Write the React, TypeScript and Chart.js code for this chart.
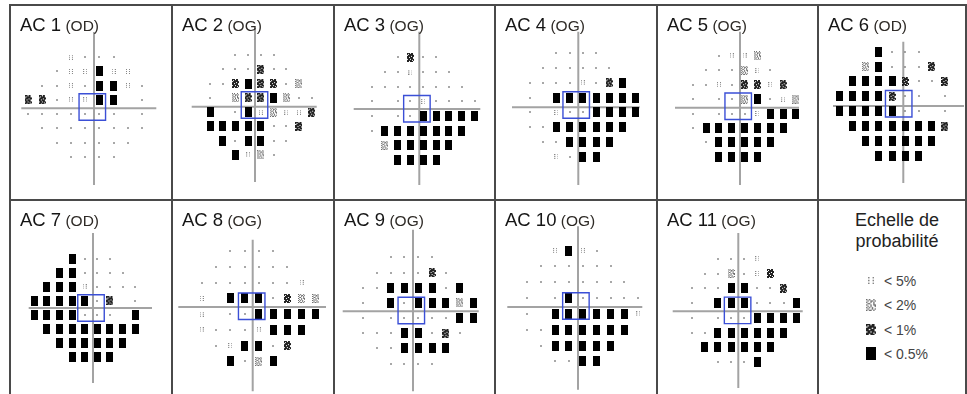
import React, { useEffect, useRef } from "react";
import { Chart, registerables } from "chart.js";
Chart.register(...registerables);

// Probability codes: 0 normal, 1 <5%, 2 <2%, 3 <1%, 4 <0.5%, null = blind spot (not shown)
const N = null;

const panelNames = ["AC 1", "AC 2", "AC 3", "AC 4", "AC 5", "AC 6", "AC 7", "AC 8", "AC 9", "AC 10", "AC 11"];
const panelEyes = ["OD", "OG", "OG", "OG", "OG", "OD", "OD", "OG", "OG", "OG", "OG"];

// 24-2 test grid (degrees), rows from top to bottom
const rowY = [21, 15, 9, 3, -3, -9, -15, -21];
const rowXOD = [
  [-9, -3, 3, 9],
  [-15, -9, -3, 3, 9, 15],
  [-21, -15, -9, -3, 3, 9, 15, 21],
  [-27, -21, -15, -9, -3, 3, 9, 15, 21],
  [-27, -21, -15, -9, -3, 3, 9, 15, 21],
  [-21, -15, -9, -3, 3, 9, 15, 21],
  [-15, -9, -3, 3, 9, 15],
  [-9, -3, 3, 9],
];
const rowXOG = [
  [-9, -3, 3, 9],
  [-15, -9, -3, 3, 9, 15],
  [-21, -15, -9, -3, 3, 9, 15, 21],
  [-21, -15, -9, -3, 3, 9, 15, 21, 27],
  [-21, -15, -9, -3, 3, 9, 15, 21, 27],
  [-21, -15, -9, -3, 3, 9, 15, 21],
  [-15, -9, -3, 3, 9, 15],
  [-9, -3, 3, 9],
];

const ac1 = [
  [1, 0, 0, 0],
  [0, 1, 1, 4, 1, 1],
  [0, 0, 1, 0, 4, 4, 1, 0],
  [3, 3, 0, 1, 1, 4, 4, N, 0],
  [0, 0, 0, 0, 0, 0, 0, N, 0],
  [0, 0, 0, 0, 0, 0, 0, 0],
  [0, 0, 0, 0, 0, 0],
  [0, 0, 0, 0],
];
const ac2 = [
  [0, 0, 0, 0],
  [0, 0, 0, 3, 0, 0],
  [0, 0, 3, 4, 3, 3, 0, 2],
  [0, N, 2, 3, 3, 4, 2, 0, 0],
  [4, N, 0, 4, 1, 2, 1, 1, 3],
  [4, 4, 4, 4, 4, 0, 0, 3],
  [4, 0, 4, 4, 0, 0],
  [4, 1, 2, 0],
];
const ac3 = [
  [0, 3, 0, 0],
  [0, 0, 1, 0, 0, 0],
  [0, 0, 0, 0, 0, 0, 0, 0],
  [0, N, 0, 0, 1, 0, 0, 0, 0],
  [0, N, 0, 0, 4, 4, 4, 4, 4],
  [0, 4, 4, 4, 4, 4, 4, 4],
  [2, 4, 4, 4, 4, 4],
  [4, 4, 4, 4],
];
const ac4 = [
  [0, 0, 0, 0],
  [0, 0, 0, 0, 0, 0],
  [0, 0, 0, 0, 1, 0, 3, 4],
  [0, N, 4, 4, 4, 4, 4, 4, 4],
  [0, N, 1, 0, 0, 4, 4, 4, 4],
  [0, 0, 4, 4, 4, 4, 4, 4],
  [0, 0, 4, 4, 4, 4],
  [1, 0, 4, 4],
];
const ac5 = [
  [0, 1, 1, 2],
  [0, 0, 0, 2, 1, 0],
  [0, 0, 1, 0, 3, 3, 1, 3],
  [0, N, 0, 0, 2, 4, 0, 1, 2],
  [0, N, 0, 0, 0, 1, 4, 4, 4],
  [0, 4, 4, 4, 4, 4, 4, 4],
  [0, 4, 4, 4, 4, 4],
  [4, 4, 4, 4],
];
const ac6 = [
  [4, 0, 0, 0],
  [2, 4, 0, 0, 0, 3],
  [4, 4, 4, 4, 3, 0, 0, 3],
  [4, 4, 4, 4, 3, 0, 0, N, 0],
  [4, 4, 4, 4, 4, 0, 0, N, 0],
  [4, 4, 4, 4, 4, 4, 4, 3],
  [4, 4, 4, 4, 4, 4],
  [4, 4, 4, 4],
];
const ac7 = [
  [4, 0, 0, 0],
  [4, 4, 0, 0, 0, 0],
  [4, 4, 4, 1, 0, 0, 0, 0],
  [4, 4, 4, 4, 4, 0, 3, N, 0],
  [4, 4, 4, 4, 0, 0, 0, N, 4],
  [4, 4, 4, 4, 4, 4, 4, 4],
  [4, 4, 4, 4, 4, 4],
  [4, 4, 4, 4],
];
const ac8 = [
  [0, 0, 0, 0],
  [0, 0, 0, 0, 0, 0],
  [0, 0, 0, 0, 0, 0, 0, 1],
  [1, N, 4, 4, 4, 0, 3, 2, 2],
  [1, N, 0, 0, 4, 4, 4, 4, 4],
  [1, 0, 0, 0, 1, 4, 4, 4],
  [0, 1, 4, 4, 0, 3],
  [4, 0, 2, 4],
];
const ac9 = [
  [0, 0, 0, 0],
  [0, 0, 0, 0, 3, 0],
  [0, 0, 4, 4, 4, 4, 0, 4],
  [0, N, 4, 0, 4, 4, 4, 2, 4],
  [0, N, 0, 0, 0, 0, 0, 4, 4],
  [0, 0, 0, 4, 4, 0, 3, 0],
  [0, 0, 4, 4, 4, 4],
  [0, 0, 0, 0],
];
const ac10 = [
  [1, 4, 1, 0],
  [0, 0, 0, 0, 0, 0],
  [0, 0, 0, 0, 0, 0, 0, 0],
  [0, N, 0, 4, 0, 0, 0, 0, 0],
  [0, N, 4, 4, 4, 4, 4, 4, 1],
  [0, 0, 4, 4, 4, 4, 4, 4],
  [0, 4, 4, 4, 4, 4],
  [0, 0, 4, 4],
];
const ac11 = [
  [0, 0, 0, 1],
  [0, 0, 2, 0, 1, 3],
  [0, 0, 0, 4, 4, 0, 0, 3],
  [0, N, 4, 4, 4, 0, 0, 0, 4],
  [0, N, 0, 0, 0, 4, 4, 4, 4],
  [0, 0, 4, 4, 4, 4, 4, 4],
  [4, 4, 4, 4, 4, 4],
  [0, 0, 0, 4],
];
const panelData = [ac1, ac2, ac3, ac4, ac5, ac6, ac7, ac8, ac9, ac10, ac11];

const legendLabels = ["< 5%", "< 2%", "< 1%", "< 0.5%"];
const legendTitle = ["Echelle de", "probabilité"];

// ---------- layout (page pixels) ----------
const COLS = [10, 172, 334, 495, 657, 818, 966];
const ROWS = [5, 200, 396];
// cx, cy: grid centre; sx, sy: px per degree; vertical/horizontal reference line placement
const LAYOUT = [
  { cx: 92.3, cy: 107, sx: 2.38, sy: 2.37, vx: 94, vy1: 32, vy2: 185, hy: 108.3, hx1: 21.3, hx2: 156.3 },
  { cx: 254.5, cy: 105, sx: 2.118, sy: 2.38, vx: 255, vy1: 28, vy2: 182, hy: 106.7, hx1: 191.7, hx2: 316.7 },
  { cx: 416.9, cy: 108.7, sx: 2.139, sy: 2.445, vx: 419.3, vy1: 31.7, vy2: 185, hy: 109, hx1: 353.7, hx2: 480.3 },
  { cx: 576.2, cy: 105, sx: 2.2, sy: 2.46, vx: 578.3, vy1: 31.7, vy2: 185, hy: 107.3, hx1: 512, hx2: 639.7 },
  { cx: 738.2, cy: 106.3, sx: 2.14, sy: 2.4, vx: 740, vy1: 31.7, vy2: 185, hy: 107.7, hx1: 675, hx2: 799 },
  { cx: 898.7, cy: 103.8, sx: 2.2, sy: 2.48, vx: 903.3, vy1: 41.7, vy2: 183, hy: 106, hx1: 833, hx2: 964 },
  { cx: 91, cy: 308, sx: 2.11, sy: 2.35, vx: 93, vy1: 233, vy2: 383, hy: 308, hx1: 28.7, hx2: 152 },
  { cx: 251.7, cy: 306.3, sx: 2.38, sy: 2.62, vx: 252.7, vy1: 239.7, vy2: 391.3, hy: 307, hx1: 178.3, hx2: 326 },
  { cx: 411.3, cy: 310.5, sx: 2.31, sy: 2.53, vx: 413, vy1: 229.7, vy2: 391.3, hy: 311.3, hx1: 342.7, hx2: 478.7 },
  { cx: 575.9, cy: 306, sx: 2.31, sy: 2.635, vx: 578, vy1: 226.3, vy2: 389.7, hy: 307, hx1: 507.3, hx2: 642.3 },
  { cx: 737.6, cy: 310.4, sx: 2.19, sy: 2.46, vx: 738.3, vy1: 233, vy2: 388, hy: 311.3, hx1: 672.7, hx2: 802.7 },
];
const BOX_SIDE = 26.5;
const FONT = "'Liberation Sans', Arial, Helvetica, sans-serif";

// ---------- symbol bitmaps ----------
const PAT1 = ["#..#", "....", "#..#", "....", "#..#"];
const PAT2 = [
  "#.#..#.",
  ".#.##.#",
  "#..#.#.",
  ".##..#.",
  "#..#.##",
  ".#.#..#",
  "#.#.#..",
  ".#..#.#",
  "#.##.#.",
];
const PAT3 = [
  "###.##.",
  "#.####.",
  ".######",
  "####.##",
  "##.###.",
  "######.",
  ".##.###",
  "#####.#",
  "##.###.",
];
const PAT4 = ["#######", "#######", "#######", "#######", "#######", "#######", "#######", "#######", "#######", "#######"];

function makeSymbol(code: number, k = 1): HTMLCanvasElement {
  const c = document.createElement("canvas");
  const draw = (pat: string[], col: string) => {
    c.width = pat[0].length * k;
    c.height = pat.length * k;
    const ctx = c.getContext("2d")!;
    ctx.fillStyle = col;
    pat.forEach((row, y) => {
      for (let x = 0; x < row.length; x++) if (row[x] === "#") ctx.fillRect(x * k, y * k, k, k);
    });
  };
  if (code === 0) draw(["##", "##"], "rgba(110,110,110,0.6)");
  else if (code === 1) draw(PAT1, "#888");
  else if (code === 2) draw(PAT2, "#707070");
  else if (code === 3) draw(PAT3, "#222");
  else draw(PAT4, "#000");
  return c;
}

let SYMBOLS: HTMLCanvasElement[] | null = null;
function symbols() {
  if (!SYMBOLS) SYMBOLS = [0, 1, 2, 3, 4].map((c) => makeSymbol(c));
  return SYMBOLS;
}

function Panel({ idx }: { idx: number }) {
  const ref = useRef<HTMLCanvasElement>(null);
  const r = idx < 6 ? 0 : 1;
  const col = idx % 6;
  const left = COLS[col];
  const top = ROWS[r];
  const W = COLS[col + 1] - left;
  const H = ROWS[r + 1] - top;

  useEffect(() => {
    const L = LAYOUT[idx];
    const xs = panelEyes[idx] === "OD" ? rowXOD : rowXOG;
    const buckets: { x: number; y: number }[][] = [[], [], [], [], []];
    panelData[idx].forEach((row, ri) =>
      row.forEach((v, ci) => {
        if (v === null) return;
        buckets[v].push({ x: xs[ri][ci], y: rowY[ri] });
      })
    );
    const toX = (p: number) => (p - L.cx) / L.sx;
    const toY = (p: number) => (L.cy - p) / L.sy;
    const sym = symbols();
    const chart = new Chart(ref.current!, {
      type: "scatter",
      data: {
        datasets: [
          {
            data: [{ x: 0, y: 0 }],
            pointStyle: "rect",
            pointRadius: BOX_SIDE / 2 / Math.SQRT1_2,
            pointBackgroundColor: "rgba(0,0,0,0)",
            pointBorderColor: "#3b4fd6",
            pointBorderWidth: 1.4,
            order: 0,
          } as any,
          ...buckets.map((b, k) => ({
            data: b,
            pointStyle: sym[k],
            pointRadius: 3,
            order: 1,
          })),
          {
            type: "line",
            data: [
              { x: toX(L.vx), y: toY(L.vy1) },
              { x: toX(L.vx), y: toY(L.vy2) },
            ],
            borderColor: "#a3a3a3",
            borderWidth: 2,
            pointRadius: 0,
            order: 2,
          } as any,
          {
            type: "line",
            data: [
              { x: toX(L.hx1), y: toY(L.hy) },
              { x: toX(L.hx2), y: toY(L.hy) },
            ],
            borderColor: "#a3a3a3",
            borderWidth: 2,
            pointRadius: 0,
            order: 2,
          } as any,
        ],
      },
      options: {
        animation: false,
        responsive: false,
        maintainAspectRatio: false,
        devicePixelRatio: 1,
        events: [],
        layout: { padding: 0, autoPadding: false },
        plugins: { legend: { display: false }, tooltip: { enabled: false }, title: { display: false } },
        scales: {
          x: { type: "linear", display: false, min: toX(left), max: toX(left + W) },
          y: { type: "linear", display: false, min: toY(top + H), max: toY(top) },
        },
      },
    });
    return () => chart.destroy();
  }, [idx]);

  return (
    <>
      <canvas ref={ref} width={W} height={H} style={{ position: "absolute", left, top, width: W, height: H }} />
      <div
        style={{
          position: "absolute",
          left: left + 10,
          top: top + 10,
          lineHeight: "19px",
          whiteSpace: "nowrap",
          fontFamily: FONT,
        }}
      >
        <span style={{ fontSize: 18.5, color: "#151515" }}>{panelNames[idx]}</span>
        <span style={{ fontSize: 15.5, color: "#2e2a26" }}> ({panelEyes[idx]})</span>
      </div>
    </>
  );
}

function LegendPanel() {
  const syms = symbols();
  const imgs = syms.slice(1).map((c) => c.toDataURL());
  const baselines = [285.5, 310, 334.5, 358.5];
  return (
    <>
      {legendTitle.map((t, i) => (
        <div
          key={t}
          style={{
            position: "absolute",
            left: 847,
            width: 100,
            textAlign: "center",
            top: [226.5, 247.5][i] - 15.5,
            fontSize: 18,
            lineHeight: "18px",
            color: "#222",
            fontFamily: FONT,
          }}
        >
          {t}
        </div>
      ))}
      {legendLabels.map((t, i) => {
        const k = 1.3;
        const w = syms[i + 1].width;
        const h = syms[i + 1].height;
        return (
          <React.Fragment key={t}>
            <img
              src={imgs[i]}
              style={{
                position: "absolute",
                left: 871 - (w * k) / 2,
                top: baselines[i] - 5 - (h * k) / 2,
                width: w * k,
                height: h * k,
              }}
            />
            <div
              style={{
                position: "absolute",
                left: 884,
                top: baselines[i] - 11.9,
                fontSize: 14,
                lineHeight: "14px",
                color: "#444",
                fontFamily: FONT,
                whiteSpace: "nowrap",
              }}
            >
              {t}
            </div>
          </React.Fragment>
        );
      })}
    </>
  );
}

function Frame() {
  const lines: React.ReactNode[] = [];
  COLS.forEach((x, i) =>
    lines.push(
      <div key={"v" + i} style={{ position: "absolute", left: x - 1, top: ROWS[0] - 1, width: 2, height: 400, background: "#4a4a4a" }} />
    )
  );
  ROWS.slice(0, 2).forEach((y, i) =>
    lines.push(
      <div key={"h" + i} style={{ position: "absolute", left: COLS[0] - 1, top: y - 1, width: COLS[6] - COLS[0] + 2, height: 2, background: "#4a4a4a" }} />
    )
  );
  return <>{lines}</>;
}

export default function App() {
  return (
    <div style={{ position: "absolute", left: 0, top: 0, width: 967, height: 394, overflow: "hidden", background: "#fff" }}>
      {panelNames.map((_, i) => (
        <Panel key={i} idx={i} />
      ))}
      <LegendPanel />
      <Frame />
    </div>
  );
}
